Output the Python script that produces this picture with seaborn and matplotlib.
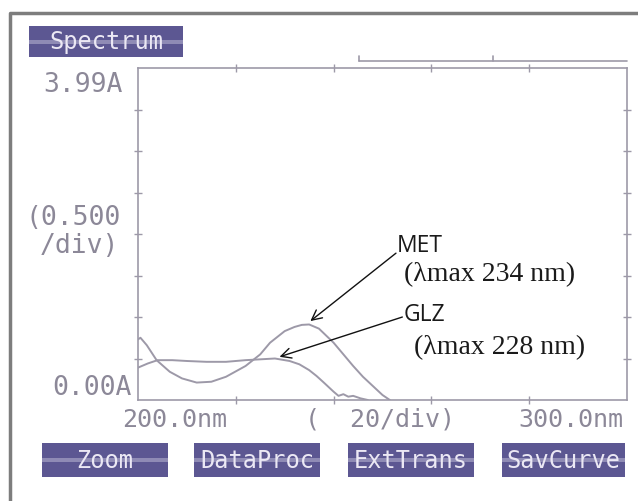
import numpy as np
import pandas as pd
import seaborn as sns
import matplotlib.pyplot as plt
from matplotlib.patches import Rectangle

# spectra (wavelength nm, absorbance A)
met_nm = [200, 200.5, 201.8, 203.8, 206.5, 209, 212, 215, 218, 222, 225, 227,
          230, 232, 233.5, 235, 237, 240, 242, 244, 246, 248, 250, 251.5]
met_abs = [0.73, 0.75, 0.66, 0.48, 0.34, 0.26, 0.21, 0.22, 0.28, 0.41, 0.55, 0.69,
           0.83, 0.88, 0.905, 0.91, 0.86, 0.69, 0.55, 0.41, 0.28, 0.17, 0.06, 0.0]

glz_nm = [200, 202, 204, 207, 210, 214, 218, 222, 225, 228, 231, 233, 235, 236.5,
          238, 240, 241, 242, 243, 244, 245.5, 247]
glz_abs = [0.39, 0.44, 0.48, 0.48, 0.47, 0.46, 0.46, 0.48, 0.49, 0.50, 0.47, 0.43,
           0.36, 0.29, 0.21, 0.10, 0.05, 0.07, 0.04, 0.05, 0.02, 0.0]

buttons = ['Zoom', 'DataProc', 'ExtTrans', 'SavCurve']

df = pd.concat([
    pd.DataFrame({'nm': met_nm, 'A': met_abs, 'drug': 'MET'}),
    pd.DataFrame({'nm': glz_nm, 'A': glz_abs, 'drug': 'GLZ'}),
])

sns.set_style('white')
plt.rcParams['font.family'] = ['DejaVu Sans']

W, H = 638, 502
fig = plt.figure(figsize=(W / 100, H / 100), dpi=100)
ax = fig.add_axes([138 / W, 1 - 401 / H, 489 / W, 332 / H])

grey = '#9d99a8'
sns.lineplot(data=df, x='nm', y='A', units='drug', estimator=None, sort=False,
             color=grey, lw=1.4, ax=ax, legend=False)

ax.set_xlim(200, 300)
ax.set_ylim(0, 4.0)
ax.set_xticks([220, 240, 260, 280])
ax.set_yticks([0.5, 1.0, 1.5, 2.0, 2.5, 3.0, 3.5])
ax.tick_params(which='both', direction='inout', length=6, width=1, color=grey,
               labelbottom=False, labelleft=False, top=True, right=True,
               bottom=True, left=True)
ax.set_xlabel('')
ax.set_ylabel('')
for s in ax.spines.values():
    s.set_color(grey)
    s.set_linewidth(1.2)

# stray marker line above the plot
ax.plot([0.452, 1.0], [1.021, 1.021], color=grey, lw=1.2,
        transform=ax.transAxes, clip_on=False)
for xm in [0.452, 0.726]:
    ax.plot([xm, xm], [1.021, 1.035], color=grey, lw=1.2,
            transform=ax.transAxes, clip_on=False)

# screen labels
mono = dict(family='DejaVu Sans Mono', color='#8c8898')
fig.text(123 / W, 1 - 85 / H, '3.99A', ha='right', va='center', fontsize=19, **mono)
fig.text(121 / W, 1 - 218 / H, '(0.500', ha='right', va='center', fontsize=19, **mono)
fig.text(119 / W, 1 - 246 / H, '/div)', ha='right', va='center', fontsize=19, **mono)
fig.text(132 / W, 1 - 388 / H, '0.00A', ha='right', va='center', fontsize=19, **mono)
fig.text(175 / W, 1 - 420 / H, '200.0nm', ha='center', va='center', fontsize=18, **mono)
fig.text(380 / W, 1 - 420 / H, '(  20/div)', ha='center', va='center', fontsize=18, **mono)
fig.text(571 / W, 1 - 420 / H, '300.0nm', ha='center', va='center', fontsize=18, **mono)


def button(x0, y0, x1, y1, label):
    fig.patches.append(Rectangle((x0 / W, 1 - y1 / H), (x1 - x0) / W, (y1 - y0) / H,
                                 transform=fig.transFigure, facecolor='#5c5792',
                                 edgecolor='none'))
    ym = (y0 + y1) / 2
    fig.patches.append(Rectangle((x0 / W, 1 - (ym + 2) / H), (x1 - x0) / W, 4 / H,
                                 transform=fig.transFigure, facecolor='#8f8bb5',
                                 edgecolor='none'))
    fig.text((x0 + x1) / 2 / W, 1 - ym / H, label, ha='center', va='center',
             fontsize=17, family='DejaVu Sans Mono', color='#ebe8f4')


button(29, 27, 183, 58, 'Spectrum')
for (x0, x1), lab in zip([(42, 168), (194, 320), (348, 474), (502, 625)], buttons):
    button(x0, 444, x1, 478, lab)

# outer frame
fig.add_artist(plt.Line2D([10 / W, 10 / W, 1.0], [0.0, 1 - 14 / H, 1 - 14 / H],
                          transform=fig.transFigure, color='#7d7d7d', lw=2.5))

# annotations
arrow = dict(arrowstyle='->', color='#111111', lw=1.0, mutation_scale=18)
ax.annotate('', xy=(234.8, 0.93), xytext=(253.2, 1.79), arrowprops=arrow)
ax.annotate('', xy=(228.4, 0.51), xytext=(254.6, 1.01), arrowprops=arrow)
ax.text(253.0, 1.80, 'MET', fontsize=16.5, family='Open Sans', color='#1a1a1a',
        va='baseline', ha='left')
ax.text(254.4, 1.45, '(\u03bbmax 234 nm)', fontsize=20, family='Liberation Serif',
        color='#1a1a1a', va='baseline', ha='left')
ax.text(254.4, 0.96, 'GLZ', fontsize=16.5, family='Open Sans', color='#1a1a1a',
        va='baseline', ha='left')
ax.text(256.4, 0.56, '(\u03bbmax 228 nm)', fontsize=20, family='Liberation Serif',
        color='#1a1a1a', va='baseline', ha='left')

fig.savefig('out.png', dpi=100)
